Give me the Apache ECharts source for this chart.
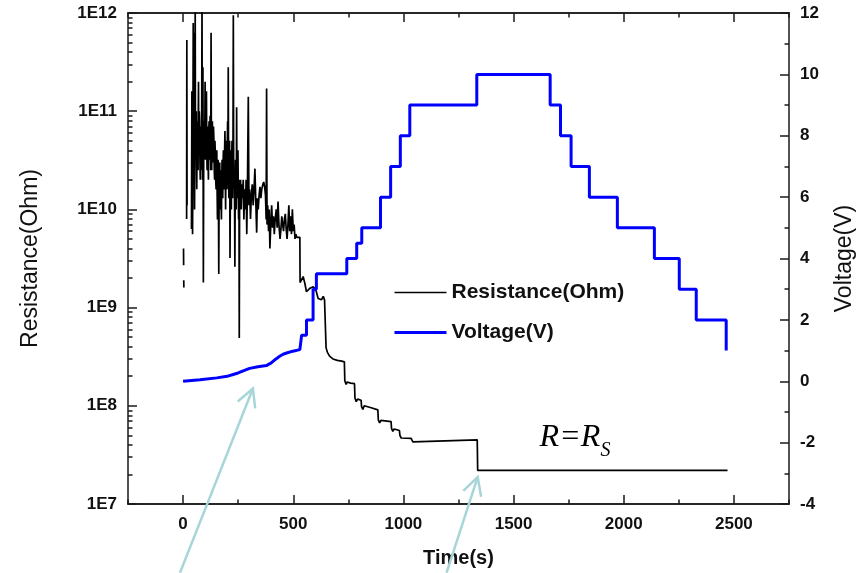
<!DOCTYPE html>
<html><head><meta charset="utf-8">
<script src="https://cdn.jsdelivr.net/npm/echarts@6/dist/echarts.min.js"></script>
<style>html,body{margin:0;padding:0;background:#fff}#c{width:856px;height:573px}</style>
</head><body><div id="c"></div>
<script>
// ---- axis ticks / labels ----
const xMajorTicks = [0, 500, 1000, 1500, 2000, 2500];
const xMinorTicks = [-250, 250, 750, 1250, 1750, 2250, 2750];
const resMajorTicks = [1e7, 1e8, 1e9, 1e10, 1e11, 1e12];
const resMinorTicks = [2e7,3e7,4e7,5e7,6e7,7e7,8e7,9e7, 2e8,3e8,4e8,5e8,6e8,7e8,8e8,9e8,
  2e9,3e9,4e9,5e9,6e9,7e9,8e9,9e9, 2e10,3e10,4e10,5e10,6e10,7e10,8e10,9e10,
  2e11,3e11,4e11,5e11,6e11,7e11,8e11,9e11];
const resTickLabels = ['1E7', '1E8', '1E9', '1E10', '1E11', '1E12'];

// ---- Resistance(Ohm) vs Time(s); null = gap in the record ----
const resTime = [
  2, 2.5, 2.5, 3, 3.5, 3.5, 16, 17, 18, 18,
  38, 39, 40, 41.5, 43, 44.5, 46, 47, 48, 49,
  50, 51, 52, 53.5, 55, 56, 57, 58.5, 60, 61,
  62, 63.5, 65, 66.5, 68, 69, 70, 71, 72, 73.5,
  75, 76.5, 78, 79, 80, 81.5, 83, 84.5, 86, 87,
  88, 89, 90, 91, 92, 93.5, 95, 96.5, 98, 99,
  100, 101.5, 103, 104.5, 106, 107.5, 109, 110.5, 112, 113.5,
  115, 116.5, 118, 119.5, 121, 122.5, 124, 125.5, 127, 128.5,
  130, 131.5, 133, 134.5, 136, 138, 140, 141.5, 143, 144.5,
  146, 148, 150, 151.5, 153, 154.5, 156, 157.5, 159, 160.5,
  162, 163.5, 165, 166.5, 168, 169.5, 171, 172.5, 174, 175.5,
  177, 178.5, 180, 181.5, 183, 184.5, 186, 188, 190, 191.5,
  193, 194.5, 196, 197.5, 199, 200.5, 202, 203.5, 205, 206.5,
  208, 209.5, 211, 212, 213, 214.5, 216, 217.5, 219, 220.5,
  222, 223.5, 225, 226.5, 228, 229.5, 231, 233, 235, 236.5,
  238, 239.5, 241, 242, 243, 244.5, 246, 247.5, 249, 250.5,
  252, 253.5, 255, 256.5, 258, 259.5, 261, 262.5, 264,
  267, 270, 273, 276, 279, 283, 286, 289, 292, 296,
  299, 302, 306, 310, 314, 318, 322, 326, 330, 334,
  337, 341, 345, 349, 353, 357, 362, 366, 370, 374,
  377, 379, 381, 384, 388, 391, 394, 398, 402, 406,
  410, 414, 418, 423, 427, 431, 435, 440, 444, 448,
  452, 456, 460, 464, 468, 472, 476, 480, 484, 488,
  492, 496, 500, 504, 508, 512, 516, 530,
  531, 545, 553, 560, 575, 591, 603, 613, 628, 636,
  642, 647, 649, 655, 665, 680, 700, 720, 732, 734,
  740, 745, 760, 778, 780, 786, 792, 808, 810, 816,
  822, 850, 884, 886, 892, 898, 944, 946, 952, 958,
  982, 984, 990, 996, 1035, 1037, 1043, 1050, 1335, 1337,
  2471
];
const resValue = [
  4.0e9, 2.7e9, null, 1.9e9, 1.6e9, null, 8.0e9, 5.3e11, 1.1e10, null,
  6.3e9, 3.0e10, 1.6e11, 2.0e10, 5.6e9, 4.0e10, 7.9e11, 6.0e10, 2.0e10, 1.2e11,
  6.3e11, 3.0e10, 1.0e10, 5.0e10, 1.3e12, 8.0e10, 3.2e10, 6.0e10, 1.0e11, 3.0e10,
  1.6e10, 5.0e10, 7.9e10, 3.5e10, 2.5e10, 9.0e10, 2.0e11, 5.0e10, 4.0e10, 1.0e11,
  7.9e10, 3.0e10, 2.0e10, 7.0e10, 6.3e10, 3.0e10, 2.5e10, 1.0e11, 1.3e12, 4.0e10,
  2.0e10, 7.0e10, 2.8e11, 3.0e10, 1.8e9, 3.0e10, 7.9e10, 4.0e10, 3.2e10, 9.0e10,
  2.0e11, 4.5e10, 3.2e10, 8.0e10, 1.6e11, 4.0e10, 2.5e10, 7.0e10, 6.3e10, 3.0e10,
  2.0e10, 6.0e10, 7.9e10, 3.5e10, 3.2e10, 9.0e10, 6.3e10, 2.5e10, 6.3e11, 4.0e10,
  2.5e10, 6.0e10, 7.9e10, 3.0e10, 4.0e10, 7.0e10, 5.0e10, 2.5e10, 2.0e10, 5.0e10,
  4.0e10, 2.0e10, 1.6e10, 3.5e10, 4.0e10, 1.5e10, 7.9e9, 2.5e10, 3.2e10, 1.2e10,
  2.2e9, 1.5e10, 2.0e10, 3.0e10, 1.0e10, 2.0e10, 2.5e10, 1.2e10, 7.9e9, 2.0e10,
  3.2e10, 1.8e10, 1.3e10, 3.0e10, 4.0e10, 2.0e10, 1.6e10, 3.5e10, 6.3e10, 2.5e10,
  1.0e10, 3.0e10, 5.0e10, 2.0e10, 1.6e10, 4.0e10, 7.9e10, 3.0e10, 2.8e11, 2.0e10,
  1.3e10, 3.5e10, 5.0e10, 1.5e10, 3.2e9, 1.5e10, 4.0e10, 2.0e10, 1.0e10, 3.0e10,
  5.0e10, 2.0e10, 1.3e10, 4.0e10, 9.5e11, 3.0e10, 1.6e10, 2.5e10, 2.6e9, 1.5e10,
  3.2e10, 1.6e10, 1.0e10, 2.5e10, 1.1e11, 2.0e10, 1.3e10, 2.5e10, 4.0e10, 1.5e10,
  7.9e9, 2.0e10, 4.9e8, 1.2e10, 1.6e10, 1.0e10, 2.0e10, 1.3e10, 1.0e10,
  1.8e10, 1.3e10, 2.0e10, 7.9e9, 1.6e10, 1.0e10, 2.0e10, 5.6e9, 1.6e10, 1.4e11,
  1.1e10, 1.6e10, 8.0e9, 1.4e10, 1.8e10, 1.1e10, 1.6e10, 2.6e10, 1.2e10, 5.8e9,
  1.3e10, 1.0e10, 1.4e10, 1.7e10, 1.3e10, 1.6e10, 1.8e10, 1.9e10, 1.7e10, 1.4e10,
  7.9e9, 1.7e11, 7.0e9, 1.1e10, 6.0e9, 1.0e10, 4.0e9, 7.0e9, 1.1e10, 6.5e9,
  8.5e9, 5.6e9, 8.0e9, 1.0e10, 6.5e9, 1.2e10, 7.0e9, 5.0e9, 6.3e9, 8.5e9,
  7.0e9, 6.0e9, 8.0e9, 9.0e9, 6.3e9, 5.0e9, 7.0e9, 1.1e10, 6.0e9, 8.5e9,
  5.6e9, 1.0e10, 6.0e9, 7.0e9, 5.0e9, 5.6e9, 5.2e9, 5.2e9,
  1.8e9, 2.07e9, 1.75e9, 1.45e9, 1.57e9, 1.63e9, 1.5e9, 1.24e9, 1.2e9, 1.3e9,
  1.2e9, 1.25e9, 3.9e8, 3.5e8, 3.2e8, 3.0e8, 2.9e8, 2.85e8, 2.8e8, 1.8e8,
  1.65e8, 1.75e8, 1.7e8, 1.68e8, 1.2e8, 1.1e8, 1.17e8, 1.14e8, 9.8e7, 9.2e7,
  1.0e8, 9.6e7, 9.1e7, 7.2e7, 6.7e7, 7.1e7, 6.9e7, 5.9e7, 5.5e7, 5.8e7,
  5.6e7, 5.0e7, 4.7e7, 4.9e7, 4.65e7, 4.45e7, 4.3e7, 4.5e7, 4.5e7, 2.2e7,
  2.2e7
];

// ---- Voltage(V) vs Time(s) ----
const voltTime = [
  0, 77, 153, 200, 227, 250, 270, 302, 340, 378,
  400, 420, 440, 454, 470, 498, 530, 538, 538, 560,
  560, 590, 590, 605, 605, 743, 743, 788, 788, 811,
  811, 896, 896, 942, 942, 986, 986, 1029, 1029, 1333,
  1333, 1666, 1666, 1713, 1713, 1761, 1761, 1844, 1844, 1971,
  1971, 2139, 2139, 2252, 2252, 2329, 2329, 2465, 2465
];
const voltValue = [
  0, 0.05, 0.11, 0.16, 0.22, 0.27, 0.33, 0.42, 0.47, 0.51,
  0.6, 0.72, 0.82, 0.88, 0.92, 0.98, 1.03, 1.03, 1.5, 1.5,
  2.0, 2.0, 3.0, 3.0, 3.5, 3.5, 4.0, 4.0, 4.5, 4.5,
  5.0, 5.0, 6.0, 6.0, 7.0, 7.0, 8.0, 8.0, 9.0, 9.0,
  10.0, 10.0, 9.0, 9.0, 8.0, 8.0, 7.0, 7.0, 6.0, 6.0,
  5.0, 5.0, 4.0, 4.0, 3.0, 3.0, 2.0, 2.0, 1.0
];

// ---- annotation anchors (data space) ----
const arrowTails = [[-14, 2e6], [1196, 2e6]];
const arrowTips = [[317, 1.5e8], [1337, 1.88e7]];
const rsAnchor = [1618, 3.7e7];

const FONT = "'Liberation Sans', Arial, sans-serif";
const AX = { color: '#1a1a1a', width: 1.5 };
const TXT = { color: '#111', fontFamily: FONT, fontWeight: 'bold' };
const TXTN = { color: '#111', fontFamily: FONT, fontWeight: 'normal' };

const resData = resTime.map((t, i) => [t, resValue[i] == null ? '-' : resValue[i]]);
const voltData = voltTime.map((t, i) => [t, voltValue[i]]);

const chart = echarts.init(document.getElementById('c'), null, { renderer: 'canvas' });

function xAx(pos, ticks, len, labels) {
  return {
    type: 'value', min: -250, max: 2750, position: pos,
    axisLine: { show: true, onZero: false, lineStyle: AX },
    axisTick: { show: true, inside: true, length: len, customValues: ticks, lineStyle: AX },
    axisLabel: labels ? Object.assign({ show: true, customValues: xMajorTicks, fontSize: 17, margin: 12, formatter: v => String(v) }, TXT) : { show: false },
    splitLine: { show: false }
  };
}

const xAxes = [
  Object.assign(xAx('bottom', xMajorTicks, 9, true), {
    name: 'Time(s)', nameLocation: 'middle', nameGap: 44,
    nameTextStyle: Object.assign({ fontSize: 20 }, TXT)
  }),
  xAx('bottom', xMinorTicks, 4.5, false),
  xAx('top', xMajorTicks, 9, false),
  xAx('top', xMinorTicks, 4.5, false)
];

const yAxes = [
  {
    type: 'log', logBase: 10, min: 1e7, max: 1e12, position: 'left',
    axisLine: { show: true, onZero: false, lineStyle: AX },
    axisTick: { show: true, inside: true, length: 9, customValues: resMajorTicks, lineStyle: AX },
    axisLabel: Object.assign({
      customValues: resMajorTicks, fontSize: 17, margin: 11,
      formatter: v => resTickLabels[resMajorTicks.findIndex(m => Math.abs(m - v) / m < 1e-6)]
    }, TXT),
    splitLine: { show: false },
    name: 'Resistance(Ohm)', nameLocation: 'middle', nameGap: 86, nameRotate: 90,
    nameTextStyle: Object.assign({ fontSize: 23 }, TXTN)
  },
  {
    type: 'log', logBase: 10, min: 1e7, max: 1e12, position: 'left',
    axisLine: { show: false, onZero: false },
    axisTick: { show: true, inside: true, length: 4.5, customValues: resMinorTicks, lineStyle: AX },
    axisLabel: { show: false }, splitLine: { show: false }
  },
  {
    type: 'value', min: -4, max: 12, interval: 2, position: 'right',
    axisLine: { show: true, onZero: false, lineStyle: AX },
    axisTick: { show: true, inside: true, length: 9, lineStyle: AX },
    minorTick: { show: true, splitNumber: 2, length: 4.5, lineStyle: AX },
    axisLabel: Object.assign({ fontSize: 17, margin: 11 }, TXT),
    splitLine: { show: false }, minorSplitLine: { show: false },
    name: 'Voltage(V)', nameLocation: 'middle', nameGap: 44, nameRotate: 90,
    nameTextStyle: Object.assign({ fontSize: 23 }, TXTN)
  }
];

chart.setOption({
  animation: false,
  backgroundColor: '#fff',
  grid: { left: 128, right: 67, top: 13, bottom: 69, containLabel: false, outerBoundsMode: 'none' },
  xAxis: xAxes,
  yAxis: yAxes,
  legend: {
    orient: 'vertical', left: 393, top: 282, padding: 0, itemWidth: 52, itemHeight: 20, itemGap: 19,
    itemStyle: { opacity: 0 },
    textStyle: Object.assign({ fontSize: 21 }, TXT),
    data: [
      { name: 'Resistance(Ohm)', lineStyle: { width: 1.6, color: '#000' } },
      { name: 'Voltage(V)', lineStyle: { width: 3, color: '#0000ff' } }
    ]
  },
  series: [
    {
      name: 'Resistance(Ohm)', type: 'line', xAxisIndex: 0, yAxisIndex: 0, data: resData,
      symbol: 'none', connectNulls: false, clip: true, z: 2,
      lineStyle: { color: '#000', width: 1.7 }, itemStyle: { color: '#000' }
    },
    {
      name: 'Voltage(V)', type: 'line', xAxisIndex: 0, yAxisIndex: 2, data: voltData,
      symbol: 'none', clip: true, z: 3,
      lineStyle: { color: '#0000ff', width: 3 }, itemStyle: { color: '#0000ff' }
    }
  ]
});

// annotation graphics (arrows and R=R_S label) positioned via the data scales
const toPx = p => chart.convertToPixel({ seriesIndex: 0 }, p);
const graphics = [];
const ARROW = '#a8d5d8';
arrowTips.forEach((tipD, i) => {
  const tip = toPx(tipD), tail = toPx(arrowTails[i]);
  const dx = tail[0] - tip[0], dy = tail[1] - tip[1];
  const L = Math.hypot(dx, dy), ux = dx / L, uy = dy / L;
  const a = 28 * Math.PI / 180, hl = 20;
  const b1 = [tip[0] + hl * (ux * Math.cos(a) - uy * Math.sin(a)), tip[1] + hl * (ux * Math.sin(a) + uy * Math.cos(a))];
  const b2 = [tip[0] + hl * (ux * Math.cos(-a) - uy * Math.sin(-a)), tip[1] + hl * (ux * Math.sin(-a) + uy * Math.cos(-a))];
  graphics.push({ type: 'polyline', shape: { points: [tail, tip] }, style: { stroke: ARROW, lineWidth: 2.5, fill: null }, z: 50 });
  graphics.push({ type: 'polyline', shape: { points: [b1, tip, b2] }, style: { stroke: ARROW, lineWidth: 2.5, fill: null }, z: 50 });
});
const rs = toPx(rsAnchor);
graphics.push({ type: 'text', x: rs[0], y: rs[1] - 11, style: { text: 'R=R', font: 'italic 32px "Liberation Serif", "Times New Roman", serif', fill: '#000', verticalAlign: 'middle', align: 'left' }, z: 50 });
graphics.push({ type: 'text', x: rs[0] + 61, y: rs[1] + 3, style: { text: 'S', font: 'italic 20px "Liberation Serif", "Times New Roman", serif', fill: '#000', verticalAlign: 'middle', align: 'left' }, z: 50 });
chart.setOption({ graphic: graphics });
</script>
</body></html>
